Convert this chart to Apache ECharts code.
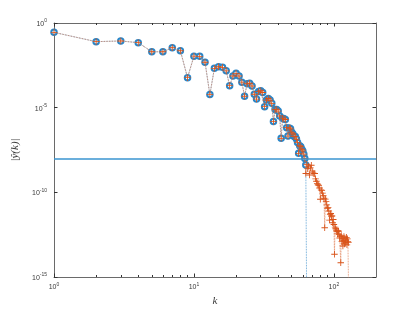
<!DOCTYPE html>
<html>
<head>
<meta charset="utf-8">
<script src="https://cdn.jsdelivr.net/npm/echarts@6/dist/echarts.min.js"></script>
<style>html,body{margin:0;padding:0;background:#fff;}#c{width:415px;height:312px;}</style>
</head>
<body>
<div id="c"></div>
<script>
// |y^(k)| for the coarse solution (64 coefficients), last one below axis floor
const coarseVals = [
  2.8e-1, 7.9e-2, 8.7e-2, 6.9e-2, 2.0e-2, 2.0e-2, 3.5e-2, 2.3e-2, 5.9e-4, 1.1e-2,
  1.07e-2, 4.8e-3, 5.9e-5, 2.1e-3, 2.6e-3, 2.4e-3, 1.5e-3, 2.0e-4, 7.4e-4, 1.07e-3,
  7.4e-4, 3.2e-4, 4.7e-5, 2.6e-4, 2.75e-4, 1.9e-4, 6.2e-5, 3.2e-5, 8.9e-5, 1.0e-4,
  7.9e-5, 1.15e-5, 2.8e-5, 3.5e-5, 2.8e-5, 1.8e-5, 1.5e-6, 7.9e-6, 7.9e-6, 6.3e-6,
  3.2e-6, 1.55e-7, 2.4e-6, 2.2e-6, 2.0e-6, 6.6e-7, 2.1e-7, 6.3e-7, 5.6e-7, 3.5e-7,
  2.8e-7, 2.0e-7, 2.0e-7, 1.4e-7, 8.9e-8, 2.0e-8, 5.6e-8, 5.0e-8, 3.5e-8, 2.8e-8,
  1.8e-8, 1.0e-8, 4.1e-9, 1e-17
];
// fine solution (128 coefficients): first 62 coincide with the coarse one
const fineHeadCount = 62;
const fineTail = [
  1.3e-9, 4.5e-9, 2.5e-9, 3.5e-9, 1.05e-9, 2.8e-9, 4.0e-9, 1.8e-9, 1.4e-9, 1.26e-9,
  1.3e-9, 6.3e-10, 4.5e-10, 3.4e-10, 2.8e-10, 2.5e-10, 1.8e-10, 3.9e-11, 1.4e-10, 1.26e-10,
  8.9e-11, 6.3e-11, 4.5e-11, 8.1e-13, 4.0e-11, 2.8e-11, 1.8e-11, 1.15e-11, 1.26e-11, 7.9e-12,
  2.3e-12, 5.0e-12, 5.6e-12, 4.0e-12, 4.0e-12, 1.6e-12, 2.5e-12, 1.26e-12, 2.2e-14, 8.9e-13,
  7.1e-13, 5.9e-13, 5.0e-13, 3.5e-13, 5.4e-13, 5.0e-13, 3.2e-13, 2.0e-13, 2.5e-13, 6.9e-15,
  2.8e-13, 1.26e-13, 1.8e-13, 6.8e-14, 1.4e-13, 2.5e-13, 8.9e-14, 2.0e-13, 1.1e-13, 1.5e-13,
  2.2e-13, 7.9e-14, 1.8e-13, 1.26e-13, 1.1e-13, 1e-17
];
const fineVals = coarseVals.slice(0, fineHeadCount).concat(fineTail);
const tolerance = 1e-8;

const xRange = [1, 200];
const yRange = [1e-15, 1];
const xMajorTicks = [1, 10, 100];
const xMinorTicks = [2, 3, 4, 5, 6, 7, 8, 9, 20, 30, 40, 50, 60, 70, 80, 90];
const yMajorTicks = [1e-15, 1e-10, 1e-5, 1];

const xName = 'k';
const yName = '|ŷ(k)|';

const toPairs = vals => vals.map((v, i) => [i + 1, v]);

const BLUE = '#0072BD';
const ORANGE = '#D95319';
const AX = '#6a6a6a';
const TXT = '#3a3a3a';

function powLabel(v) {
  const e = Math.round(Math.log10(v));
  return '{b|10}{s|' + e + '}';
}
const rich = {
  b: {fontSize: 7, fontFamily: 'Liberation Sans', color: TXT, verticalAlign: 'bottom'},
  s: {fontSize: 5, fontFamily: 'Liberation Sans', color: TXT, verticalAlign: 'bottom', padding: [0, 0, 4, 0]}
};

function xAx(pos, ticks, len, showLine, showLabel) {
  return {
    type: 'log', logBase: 10, min: xRange[0], max: xRange[1], position: pos, gridIndex: 0,
    axisLine: {show: showLine, onZero: false, lineStyle: {color: AX, width: 1}},
    axisTick: {show: true, inside: true, length: len, customValues: ticks, lineStyle: {color: '#333', width: 1}},
    axisLabel: showLabel ? {show: true, customValues: ticks, formatter: powLabel, rich: rich, margin: 5} : {show: false},
    splitLine: {show: false}, minorTick: {show: false}
  };
}
function yAx(pos, showLabel) {
  return {
    type: 'log', logBase: 10, min: yRange[0], max: yRange[1], position: pos, gridIndex: 0,
    axisLine: {show: true, onZero: false, lineStyle: {color: AX, width: 1}},
    axisTick: {show: true, inside: true, length: 3.5, customValues: yMajorTicks, lineStyle: {color: '#333', width: 1}},
    axisLabel: showLabel ? {show: true, customValues: yMajorTicks, formatter: powLabel, rich: rich, margin: 7} : {show: false},
    splitLine: {show: false}, minorTick: {show: false}
  };
}

const xAxes = [
  xAx('bottom', xMajorTicks, 3.5, true, true),
  xAx('bottom', xMinorTicks, 2, false, false),
  xAx('top', xMajorTicks, 3.5, true, false),
  xAx('top', xMinorTicks, 2, false, false)
];
Object.assign(xAxes[0], {
  name: xName, nameLocation: 'middle', nameGap: 17,
  nameTextStyle: {fontFamily: 'Liberation Serif', fontStyle: 'italic', fontSize: 11, color: TXT}
});
const yAxes = [yAx('left', true), yAx('right', false)];
Object.assign(yAxes[0], {
  name: yName, nameLocation: 'middle', nameGap: 24, nameRotate: 90,
  nameTextStyle: {fontFamily: 'Liberation Serif', fontStyle: 'italic', fontSize: 11, color: TXT}
});

const plusPath = 'path://M4.35,0H5.65V4.35H10V5.65H5.65V10H4.35V5.65H0V4.35H4.35Z';

const chart = echarts.init(document.getElementById('c'), null, {renderer: 'canvas'});
chart.setOption({
  animation: false,
  backgroundColor: '#fff',
  grid: {left: 54, top: 23, width: 322, height: 254, containLabel: false},
  xAxis: xAxes,
  yAxis: yAxes,
  series: [
    {
      type: 'line', xAxisIndex: 0, yAxisIndex: 0, data: toPairs(coarseVals),
      symbol: 'emptyCircle', symbolSize: 5.5, showAllSymbol: true, clip: true,
      lineStyle: {color: '#3d8fcc', width: 0.8, type: 'dotted'},
      itemStyle: {color: '#2a86c8', borderColor: '#2a86c8', borderWidth: 1},
      markLine: {
        silent: true, symbol: ['none', 'none'], label: {show: false},
        lineStyle: {color: '#3a94d0', width: 1.5, type: 'solid'},
        data: [[{coord: [xRange[0], tolerance]}, {coord: [xRange[1], tolerance]}]]
      },
      z: 2
    },
    {
      type: 'line', xAxisIndex: 0, yAxisIndex: 0, data: toPairs(fineVals),
      symbol: plusPath, symbolSize: 6.5, showAllSymbol: true, clip: true,
      lineStyle: {color: '#e07a4e', width: 0.8, type: 'dotted'},
      itemStyle: {color: ORANGE, borderWidth: 0},
      z: 3
    }
  ]
});
</script>
</body>
</html>
